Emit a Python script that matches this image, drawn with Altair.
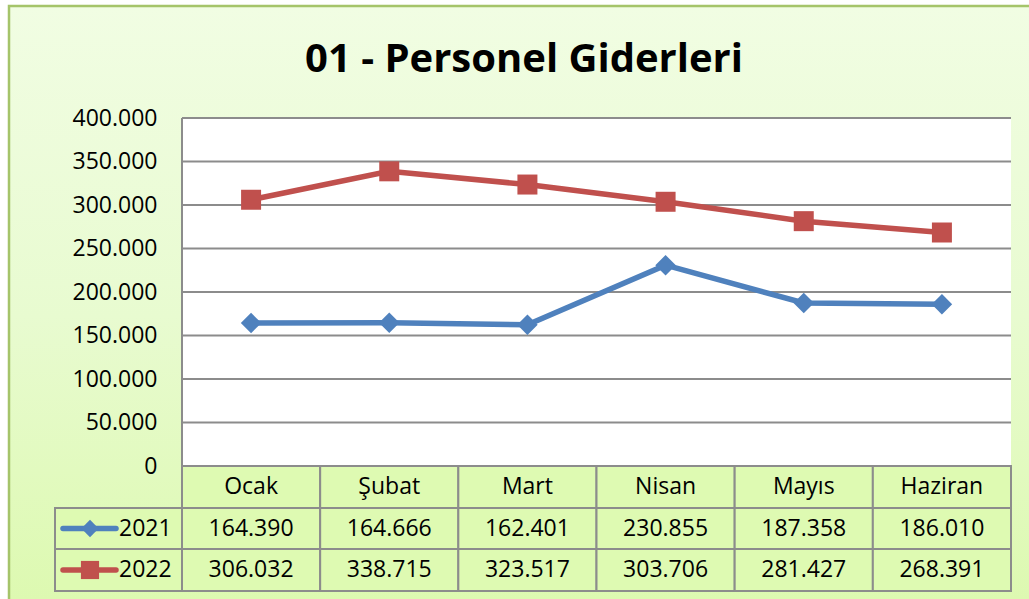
import altair as alt
import pandas as pd

months = ["Ocak", "Şubat", "Mart", "Nisan", "Mayıs", "Haziran"]
years = ["2021", "2022"]
values_2021 = [164390, 164666, 162401, 230855, 187358, 186010]
values_2022 = [306032, 338715, 323517, 303706, 281427, 268391]
y_ticks = [0, 50000, 100000, 150000, 200000, 250000, 300000, 350000, 400000]
title_text = "01 - Personel Giderleri"

colors = {"2021": "#4F81BD", "2022": "#C0504D"}
shapes = {"2021": "diamond", "2022": "square"}
FONT = "Open Sans"
FS = 23
W, H = 829, 348
ROW_Y = {"hdr": (348, 390), "2021": (390, 431), "2022": (431, 473)}

rows = []
for y, vals in zip(years, [values_2021, values_2022]):
    for i, (m, v) in enumerate(zip(months, vals)):
        rows.append({"month": m, "idx": i, "x0": i - 0.5, "x1": i + 0.5,
                     "year": y, "value": v, "label": f"{v:,}".replace(",", ".")})
df = pd.DataFrame(rows)
mdf = pd.DataFrame({"month": months, "idx": list(range(len(months)))})
mdf["x0"] = mdf["idx"] - 0.5
mdf["x1"] = mdf["idx"] + 0.5
gdf = pd.DataFrame({"v": y_ticks})
one = pd.DataFrame({"a": [0]})

xs = alt.Scale(domain=[-0.5, 5.5], nice=False, zero=False)
ys = alt.Scale(domain=[0, 400000], nice=False, zero=True)
X = lambda f: alt.X(f, type="quantitative", scale=xs, axis=None)

bg = alt.Chart(one).mark_rect(
    fill=alt.Gradient(gradient="linear", x1=0, x2=0, y1=0, y2=1,
                      stops=[alt.GradientStop(color="#F1FDE3", offset=0),
                             alt.GradientStop(color="#E8FBD0", offset=0.5),
                             alt.GradientStop(color="#DCF9AE", offset=1)]),
    stroke="#A5C46A", strokeWidth=2.5
).encode(x=alt.value(-173), x2=alt.value(W + 40), y=alt.value(-112), y2=alt.value(H + 160))

plot_bg = alt.Chart(one).mark_rect(fill="white").encode(
    x=alt.value(0), x2=alt.value(W), y=alt.value(0), y2=alt.value(H))

cell_style = dict(fill="#DEFAB2", stroke="#8C8C8C", strokeWidth=2)
hdr_cells = alt.Chart(mdf).mark_rect(**cell_style).encode(
    x=X("x0"), x2="x1", y=alt.value(ROW_Y["hdr"][0]), y2=alt.value(ROW_Y["hdr"][1]))
row_cells = []
for y in years:
    d = df[df.year == y]
    row_cells.append(alt.Chart(d).mark_rect(**cell_style).encode(
        x=X("x0"), x2="x1", y=alt.value(ROW_Y[y][0]), y2=alt.value(ROW_Y[y][1])))
    row_cells.append(alt.Chart(one).mark_rect(**cell_style).encode(
        x=alt.value(-127), x2=alt.value(0), y=alt.value(ROW_Y[y][0]), y2=alt.value(ROW_Y[y][1])))

grid = alt.Chart(gdf).mark_rule(color="#8C8C8C", strokeWidth=2).encode(
    y=alt.Y("v:Q", scale=ys,
            axis=alt.Axis(values=y_ticks, grid=False, domain=False, ticks=False,
                          labelPadding=25, labelFontSize=FS, labelFont=FONT,
                          labelColor="black", title=None, zindex=1,
                          labelExpr="replace(format(datum.value, ','), regexp(',', 'g'), '.')")),
    x=alt.value(0), x2=alt.value(W))
left_border = alt.Chart(one).mark_rule(color="#8C8C8C", strokeWidth=2).encode(
    x=alt.value(0), y=alt.value(0), y2=alt.value(H))

cscale = alt.Scale(domain=years, range=[colors[y] for y in years])
lines = alt.Chart(df).mark_line(strokeWidth=5.5).encode(
    x=X("idx"), y=alt.Y("value:Q", scale=ys),
    color=alt.Color("year:N", scale=cscale, legend=None), detail="year:N")
pts = []
for y in years:
    pts.append(alt.Chart(df[df.year == y]).mark_point(
        shape=shapes[y], filled=True, size=420 if y == "2021" else 400,
        opacity=1, color=colors[y]).encode(x=X("idx"), y=alt.Y("value:Q", scale=ys)))

txt_style = dict(fontSize=FS, font=FONT, color="black", baseline="middle", align="center")
hdr_text = alt.Chart(mdf).mark_text(**txt_style).encode(
    x=X("idx"), y=alt.value(sum(ROW_Y["hdr"]) / 2), text="month:N")
val_texts = []
leg = []
for y in years:
    cy = sum(ROW_Y[y]) / 2
    val_texts.append(alt.Chart(df[df.year == y]).mark_text(**txt_style).encode(
        x=X("idx"), y=alt.value(cy), text="label:N"))
    leg.append(alt.Chart(one).mark_rule(color=colors[y], strokeWidth=5.5, strokeCap="round").encode(
        x=alt.value(-119), x2=alt.value(-66), y=alt.value(cy)))
    leg.append(alt.Chart(one).mark_point(shape=shapes[y], filled=True, opacity=1,
                                         size=300 if y == "2021" else 330, color=colors[y]).encode(
        x=alt.value(-92), y=alt.value(cy)))
    leg.append(alt.Chart(pd.DataFrame({"t": [y]})).mark_text(
        fontSize=FS, font=FONT, color="black", baseline="middle", align="left").encode(
        x=alt.value(-63), y=alt.value(cy), text="t:N"))

title = alt.Chart(pd.DataFrame({"t": [title_text]})).mark_text(
    fontSize=40, font=FONT, fontWeight="bold", color="black", align="center",
    baseline="alphabetic").encode(x=alt.value(342), y=alt.value(-46), text="t:N")

chart = alt.layer(bg, plot_bg, hdr_cells, *row_cells, grid, left_border, lines, *pts,
                  hdr_text, *val_texts, *leg, title).properties(
    width=W, height=H, background="white",
    padding={"left": 182, "top": 118, "right": 18, "bottom": 133},
    autosize=alt.AutoSizeParams(type="none"),
).configure_view(stroke=None)

chart.save("out.html", embed_options={"renderer": "svg", "actions": False})
